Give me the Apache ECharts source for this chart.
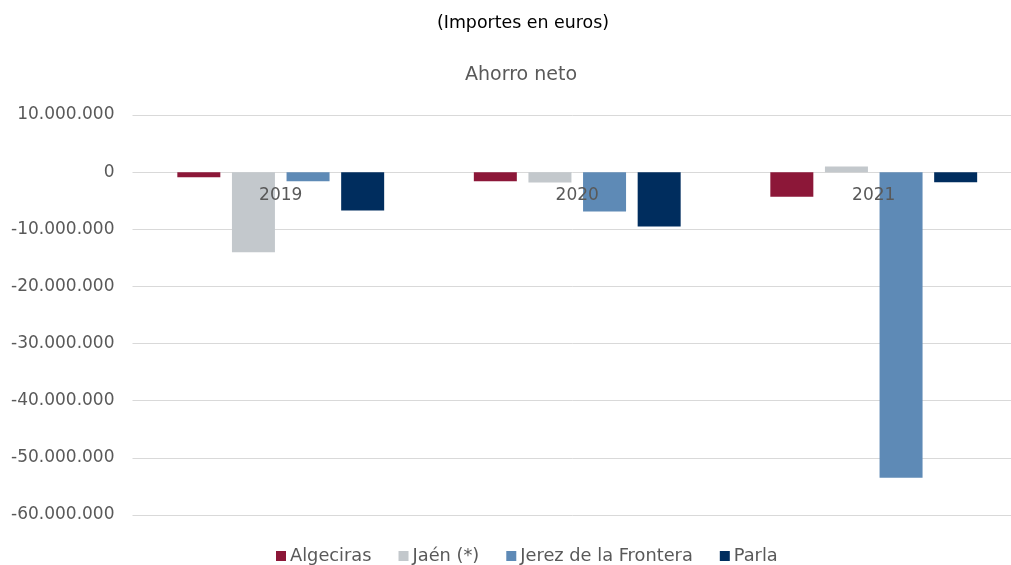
<!DOCTYPE html>
<html><head><meta charset="utf-8">
<script src="https://cdn.jsdelivr.net/npm/echarts@6/dist/echarts.min.js"></script>
<style>html,body{margin:0;padding:0;background:#fff;overflow:hidden}#c{width:1011px;height:565px}</style>
</head><body><div id="c"></div>
<script>
const categories = ['2019', '2020', '2021'];
const algeciras = [-900000, -1600000, -4300000];
const jaen = [-14000000, -1800000, 1000000];
const jerez = [-1600000, -6900000, -53500000];
const parla = [-6700000, -9500000, -1750000];
const seriesNames = ['Algeciras', 'Jaén (*)', 'Jerez de la Frontera', 'Parla'];
const colors = ['#8c1738', '#c3c8cc', '#5e8ab6', '#002d5e'];

function fmt(v) {
  const s = Math.abs(v).toString().replace(/\B(?=(\d{3})+(?!\d))/g, '.');
  return (v < 0 ? '-' : '') + s;
}
const font = 'DejaVu Sans, sans-serif';
const chart = echarts.init(document.getElementById('c'), null, {renderer: 'canvas'});
const data = [algeciras, jaen, jerez, parla];
chart.setOption({
  animation: false,
  color: colors,
  title: [
    {text: '(Importes en euros)', left: 518, textAlign: 'center', top: 8, textStyle: {fontFamily: font, fontSize: 17.4, fontWeight: 'normal', color: '#000', lineHeight: 20}},
    {text: 'Ahorro neto', left: 516, textAlign: 'center', top: 59, textStyle: {fontFamily: font, fontSize: 19, fontWeight: 'normal', color: '#595959', lineHeight: 22}}
  ],
  legend: {
    top: 541, left: 271, itemWidth: 10, itemHeight: 10, itemGap: 27, icon: 'rect',
    textStyle: {fontFamily: font, fontSize: 17.8, color: '#595959', lineHeight: 20, padding: [0, 0, 0, -1]},
    data: seriesNames
  },
  grid: {left: 132.5, width: 889.5, top: 115, height: 400, containLabel: false, outerBoundsMode: 'none'},
  xAxis: {
    type: 'category', data: categories, z: 10,
    offset: -343,
    axisLine: {show: false, onZero: false},
    axisTick: {show: false},
    axisLabel: {fontFamily: font, fontSize: 17, color: '#595959', margin: 14, lineHeight: 20}
  },
  yAxis: {
    type: 'value', min: -60000000, max: 10000000, interval: 10000000,
    axisLine: {show: false}, axisTick: {show: false},
    splitLine: {lineStyle: {color: '#d9d9d9', width: 1}},
    axisLabel: {fontFamily: font, fontSize: 17, color: '#595959', margin: 18, formatter: fmt}
  },
  series: data.map((d, i) => ({
    name: seriesNames[i], type: 'bar', data: d,
    barWidth: 43, barGap: '27%', z: 1
  }))
});
</script></body></html>
